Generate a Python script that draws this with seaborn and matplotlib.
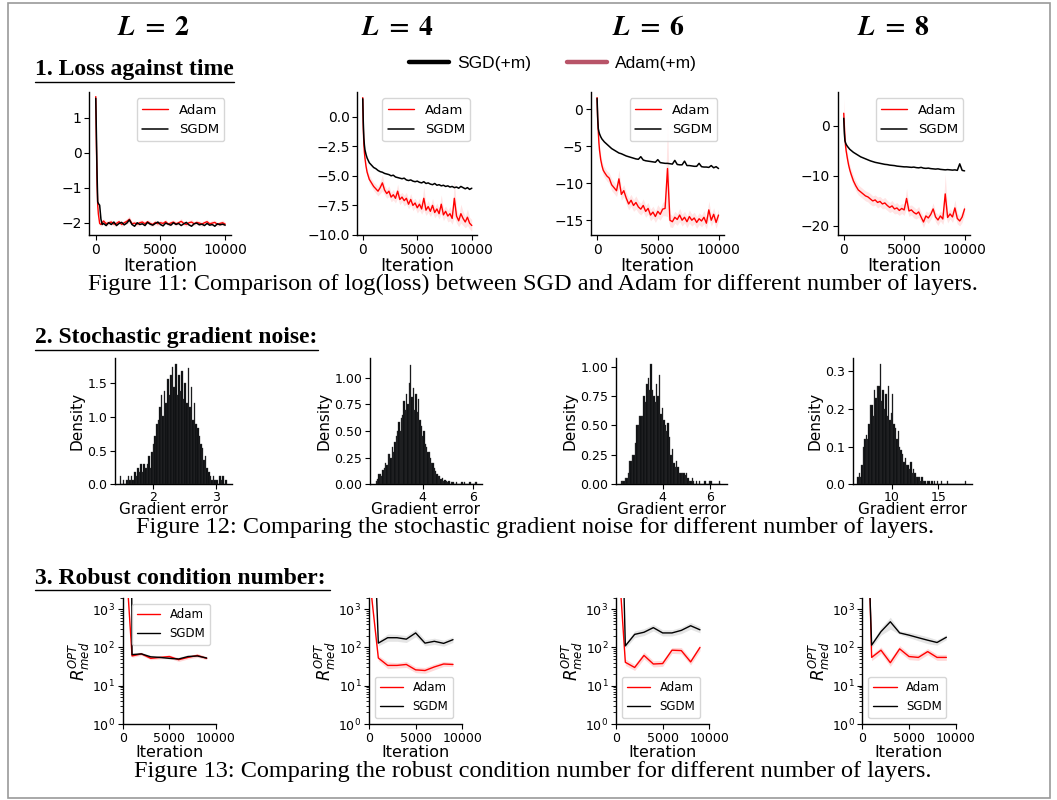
import matplotlib
matplotlib.use("Agg")
import matplotlib.pyplot as plt
from matplotlib.lines import Line2D
from matplotlib.patches import Rectangle
import numpy as np
import pandas as pd
import seaborn as sns

# ---------------- data ----------------
layer_numbers = ["2", "4", "6", "8"]

loss_iters = [0, 50, 100, 150, 200, 300, 400, 500, 600, 800,
              1000, 1200, 1400, 1600, 1800, 2000, 2200, 2400, 2600, 2800,
              3000, 3200, 3400, 3600, 3800, 4000, 4200, 4400, 4600, 4800,
              5000, 5200, 5400, 5600, 5800, 6000, 6200, 6400, 6600, 6800,
              7000, 7200, 7400, 7600, 7800, 8000, 8200, 8400, 8600, 8800,
              9000, 9200, 9400, 9600, 9800, 10000]

loss_adam_L2 = [1.60, 0.20, -0.90, -1.50, -1.75, -2.02, -2.05, -2.00, -1.95, -2.03,
                -2.00, -1.98, -2.04, -2.02, -1.97, -2.05, -2.00, -1.96, -1.90, -2.03,
                -2.01, -2.04, -2.00, -1.98, -2.03, -1.97, -2.02, -2.05, -1.99, -2.03,
                -2.00, -2.02, -1.97, -2.04, -2.01, -1.98, -2.03, -2.00, -1.96, -2.02,
                -2.05, -2.00, -1.98, -2.03, -1.99, -2.01, -2.04, -2.00, -1.97, -2.03,
                -2.01, -1.99, -2.05, -2.02, -2.00, -2.04]
loss_sgdm_L2 = [1.55, 0.50, -0.60, -1.40, -1.45, -1.50, -1.90, -2.05, -2.02, -2.08,
                -2.00, -2.05, -1.98, -2.08, -2.02, -1.99, -2.06, -2.01, -1.92, -2.05,
                -2.10, -2.00, -2.05, -2.03, -2.08, -1.99, -2.04, -2.07, -2.02, -1.98,
                -2.05, -2.09, -2.01, -2.04, -2.07, -2.00, -2.05, -2.02, -2.08, -2.03,
                -1.99, -2.06, -2.10, -2.03, -2.01, -2.06, -2.04, -2.08, -2.02, -2.07,
                -2.05, -2.10, -2.03, -2.06, -2.04, -2.07]
loss_adam_L4 = [1.60, -1.00, -2.30, -3.00, -3.50, -4.20, -4.70, -5.00, -5.30, -5.60,
                -5.90, -6.10, -6.30, -6.00, -5.60, -6.20, -6.50, -6.30, -6.80, -6.60,
                -6.90, -6.30, -7.00, -6.80, -7.10, -6.90, -7.40, -7.00, -7.50, -7.30,
                -7.70, -7.40, -7.80, -6.90, -7.90, -7.60, -8.00, -7.50, -8.10, -7.80,
                -8.20, -7.40, -8.30, -8.00, -8.40, -8.20, -8.60, -6.90, -8.40, -8.80,
                -8.20, -8.60, -8.90, -8.50, -9.00, -9.20]
loss_sgdm_L4 = [1.50, -0.50, -1.80, -2.40, -2.80, -3.20, -3.50, -3.70, -3.90, -4.10,
                -4.30, -4.40, -4.55, -4.65, -4.70, -4.80, -4.85, -4.90, -5.00, -4.95,
                -5.10, -5.15, -5.20, -5.25, -5.20, -5.35, -5.40, -5.35, -5.45, -5.50,
                -5.45, -5.55, -5.60, -5.50, -5.65, -5.60, -5.70, -5.75, -5.65, -5.80,
                -5.75, -5.85, -5.80, -5.90, -5.85, -5.95, -5.90, -6.00, -5.95, -6.05,
                -5.90, -6.00, -6.10, -6.00, -6.15, -6.05]
loss_adam_L6 = [1.60, -1.50, -3.00, -4.50, -5.50, -6.80, -7.60, -8.20, -8.50, -9.00,
                -9.30, -10.2, -10.6, -11.0, -9.40, -11.5, -11.0, -12.0, -12.8, -12.3,
                -13.0, -12.6, -13.2, -13.5, -13.0, -13.8, -13.4, -14.3, -13.9, -14.5,
                -13.8, -14.2, -13.5, -13.4, -8.00, -15.0, -15.2, -14.6, -14.9, -14.3,
                -15.0, -14.6, -15.2, -14.5, -15.0, -14.7, -15.3, -14.8, -15.1, -14.6,
                -15.4, -13.6, -15.0, -14.2, -15.3, -14.3]
loss_sgdm_L6 = [1.50, -1.00, -2.60, -3.00, -3.30, -3.70, -4.00, -4.20, -4.40, -4.70,
                -5.00, -5.30, -5.50, -5.70, -5.90, -6.00, -6.15, -6.30, -6.40, -6.50,
                -6.60, -6.70, -6.75, -6.40, -6.85, -6.95, -7.00, -7.05, -7.10, -7.15,
                -6.80, -7.20, -7.25, -7.30, -7.30, -7.35, -7.40, -6.90, -7.45, -7.50,
                -7.50, -7.00, -7.60, -7.60, -7.65, -7.70, -7.70, -7.30, -7.75, -7.80,
                -7.80, -7.85, -7.60, -7.90, -7.75, -8.00]
loss_adam_L8 = [2.50, 0.00, -2.50, -4.00, -5.00, -6.50, -7.80, -8.80, -9.60, -11.0,
                -12.0, -12.8, -13.2, -13.6, -14.0, -14.2, -14.6, -15.0, -14.8, -15.3,
                -15.1, -15.6, -15.4, -15.9, -16.3, -16.0, -16.6, -16.4, -16.9, -16.5,
                -16.8, -14.5, -17.0, -16.8, -17.3, -17.6, -17.2, -18.2, -19.2, -18.0,
                -18.4, -17.7, -16.6, -18.2, -18.8, -18.0, -18.6, -13.6, -18.3, -17.6,
                -18.2, -16.4, -18.5, -19.0, -18.2, -16.6]
loss_sgdm_L8 = [1.50, -1.50, -3.00, -3.40, -3.70, -4.10, -4.40, -4.70, -4.90, -5.30,
                -5.60, -5.90, -6.20, -6.40, -6.60, -6.80, -7.00, -7.15, -7.30, -7.40,
                -7.50, -7.60, -7.70, -7.75, -7.85, -7.90, -7.95, -8.05, -8.10, -8.15,
                -8.20, -8.20, -8.25, -8.30, -8.25, -8.35, -8.40, -8.30, -8.45, -8.50,
                -8.45, -8.55, -8.60, -8.65, -8.60, -8.70, -8.75, -8.80, -8.75, -8.80,
                -8.85, -8.80, -8.90, -7.60, -8.90, -9.00]

# half-width of the Adam uncertainty band
adam_spread_L2 = [0.15, 0.15, 0.12, 0.10, 0.08, 0.06, 0.06, 0.07, 0.06, 0.08,
                  0.06, 0.07, 0.06, 0.08, 0.06, 0.07, 0.06, 0.08, 0.10, 0.06,
                  0.07, 0.06, 0.08, 0.06, 0.07, 0.06, 0.08, 0.06, 0.07, 0.06,
                  0.08, 0.06, 0.07, 0.06, 0.08, 0.06, 0.07, 0.06, 0.08, 0.06,
                  0.07, 0.06, 0.08, 0.06, 0.07, 0.06, 0.08, 0.06, 0.07, 0.06,
                  0.08, 0.06, 0.07, 0.06, 0.08, 0.06]
adam_spread_L4 = [0.30, 0.30, 0.30, 0.30, 0.30, 0.30, 0.30, 0.30, 0.35, 0.35,
                  0.35, 0.40, 0.40, 0.50, 0.70, 0.40, 0.40, 0.45, 0.40, 0.45,
                  0.40, 0.60, 0.45, 0.40, 0.45, 0.50, 0.40, 0.50, 0.45, 0.40,
                  0.45, 0.50, 0.45, 1.00, 0.45, 0.50, 0.45, 0.60, 0.45, 0.50,
                  0.45, 0.80, 0.50, 0.45, 0.50, 0.60, 0.50, 1.60, 0.60, 0.50,
                  0.80, 0.60, 0.50, 0.70, 0.50, 0.50]
adam_spread_L6 = [0.50, 0.50, 0.60, 0.60, 0.60, 0.70, 0.70, 0.70, 0.70, 0.70,
                  0.70, 0.80, 0.80, 0.80, 1.20, 0.80, 0.80, 0.80, 0.80, 0.80,
                  0.80, 0.90, 0.80, 0.80, 0.90, 0.80, 0.80, 0.80, 0.80, 0.80,
                  0.90, 0.80, 0.90, 1.00, 6.50, 0.90, 0.80, 0.80, 0.80, 0.90,
                  0.80, 0.80, 0.80, 0.90, 0.80, 0.80, 0.80, 0.80, 0.80, 0.90,
                  0.80, 1.20, 0.80, 0.90, 0.80, 0.80]
adam_spread_L8 = [3.00, 2.50, 2.00, 1.50, 1.20, 1.00, 1.00, 1.00, 1.00, 1.00,
                  1.00, 1.00, 1.00, 1.00, 1.00, 1.00, 1.10, 1.00, 1.00, 1.10,
                  1.00, 1.00, 1.10, 1.00, 1.00, 1.10, 1.00, 1.10, 1.00, 1.00,
                  1.10, 2.00, 1.10, 1.00, 1.10, 1.00, 1.10, 1.00, 1.10, 1.00,
                  1.10, 1.00, 1.20, 1.00, 1.10, 1.00, 1.10, 4.00, 1.10, 1.00,
                  1.10, 1.60, 1.10, 1.00, 1.10, 1.00]

# gradient-noise histograms (density per bin)
hist_start = [1.475, 2.15, 2.22, 6.30]
hist_width = [0.025, 0.052, 0.06, 0.15]
hist_L2 = [0.12, 0.00, 0.06, 0.00, 0.06, 0.12, 0.06, 0.12, 0.06, 0.18,
           0.12, 0.24, 0.18, 0.30, 0.18, 0.30, 0.24, 0.30, 0.42, 0.24,
           0.48, 0.60, 0.72, 0.90, 0.96, 1.14, 1.32, 1.02, 1.38, 1.20,
           1.56, 1.32, 1.62, 1.74, 1.44, 1.78, 1.32, 1.62, 1.38, 1.68,
           1.26, 1.50, 1.20, 1.72, 1.14, 1.44, 0.96, 1.20, 0.90, 0.84,
           0.72, 0.60, 0.54, 0.36, 0.42, 0.24, 0.18, 0.12, 0.06, 0.12,
           0.06, 0.06, 0.00, 0.12, 0.06, 0.12, 0.00, 0.06]
hist_L4 = [0.03, 0.05, 0.10, 0.10, 0.08, 0.13, 0.15, 0.20, 0.18, 0.28,
           0.28, 0.25, 0.35, 0.30, 0.40, 0.45, 0.50, 0.58, 0.50, 0.62,
           0.65, 0.78, 0.70, 0.85, 0.75, 0.95, 1.12, 0.82, 0.90, 0.70,
           0.85, 0.68, 0.80, 0.60, 0.55, 0.45, 0.50, 0.38, 0.35, 0.30,
           0.30, 0.25, 0.20, 0.20, 0.15, 0.12, 0.10, 0.08, 0.08, 0.05,
           0.06, 0.03, 0.04, 0.03, 0.02, 0.03, 0.00, 0.02, 0.02, 0.00,
           0.00, 0.02, 0.00, 0.00, 0.00, 0.02, 0.00, 0.02, 0.00, 0.00,
           0.00, 0.02, 0.00, 0.00, 0.00, 0.02, 0.02]
hist_L6 = [0.03, 0.03, 0.03, 0.05, 0.05, 0.10, 0.20, 0.20, 0.25, 0.25,
           0.35, 0.50, 0.50, 0.58, 0.58, 0.58, 0.75, 0.70, 0.85, 0.90,
           0.80, 1.02, 0.80, 0.75, 0.70, 0.85, 0.75, 0.93, 0.60, 0.65,
           0.55, 0.50, 0.45, 0.52, 0.40, 0.25, 0.30, 0.18, 0.15, 0.20,
           0.15, 0.10, 0.10, 0.10, 0.10, 0.08, 0.10, 0.05, 0.03, 0.03,
           0.05, 0.03, 0.00, 0.03, 0.00, 0.03, 0.00, 0.00, 0.00, 0.03,
           0.00, 0.00, 0.03, 0.03, 0.00, 0.00, 0.00, 0.00, 0.00, 0.03, 0.00]
hist_L8 = [0.02, 0.03, 0.02, 0.05, 0.10, 0.12, 0.13, 0.12, 0.16, 0.21,
           0.21, 0.18, 0.25, 0.23, 0.26, 0.26, 0.32, 0.22, 0.25, 0.20,
           0.24, 0.18, 0.26, 0.17, 0.19, 0.24, 0.16, 0.15, 0.12, 0.14,
           0.10, 0.09, 0.08, 0.06, 0.07, 0.05, 0.05, 0.04, 0.06, 0.03,
           0.04, 0.03, 0.02, 0.02, 0.02, 0.01, 0.02, 0.01, 0.01, 0.00,
           0.01, 0.01, 0.00, 0.01, 0.00, 0.01, 0.00, 0.01, 0.00, 0.00,
           0.01, 0.00, 0.00, 0.00, 0.01, 0.00, 0.00, 0.00, 0.00, 0.00,
           0.00, 0.00, 0.00, 0.00, 0.00, 0.00, 0.00, 0.01]

# robust condition number
cn_iters = [0, 1000, 2000, 3000, 4000, 5000, 6000, 7000, 8000, 9000]
cn_adam_L2 = [4e5, 60, 68, 52, 55, 58, 48, 55, 62, 52]
cn_adam_L2_lo = [4e5, 55, 62, 48, 50, 52, 43, 50, 55, 48]
cn_adam_L2_hi = [4e5, 66, 74, 57, 60, 64, 53, 60, 70, 57]
cn_sgdm_L2 = [1e50, 65, 68, 57, 55, 52, 50, 58, 60, 53]
cn_sgdm_L2_lo = [1e50, 60, 63, 53, 51, 48, 46, 54, 56, 49]
cn_sgdm_L2_hi = [1e50, 70, 73, 61, 59, 56, 54, 62, 64, 57]
cn_adam_L4 = [9e3, 53, 34, 34, 36, 26, 25, 31, 37, 36]
cn_adam_L4_lo = [9e3, 45, 28, 29, 30, 22, 21, 26, 32, 32]
cn_adam_L4_hi = [9e3, 62, 42, 40, 43, 31, 30, 37, 43, 41]
cn_sgdm_L4 = [5e8, 130, 180, 180, 165, 240, 130, 145, 128, 160]
cn_sgdm_L4_lo = [5e8, 110, 145, 145, 135, 190, 110, 120, 108, 135]
cn_sgdm_L4_hi = [5e8, 155, 225, 220, 205, 300, 160, 175, 155, 190]
cn_adam_L6 = [2e5, 41, 30, 62, 37, 38, 85, 83, 42, 100]
cn_adam_L6_lo = [2e5, 34, 25, 50, 31, 32, 70, 68, 35, 82]
cn_adam_L6_hi = [2e5, 50, 36, 76, 45, 46, 100, 100, 51, 120]
cn_sgdm_L6 = [5e11, 110, 220, 250, 330, 240, 240, 280, 370, 290]
cn_sgdm_L6_lo = [5e11, 95, 180, 205, 270, 200, 200, 230, 300, 240]
cn_sgdm_L6_hi = [5e11, 130, 270, 310, 400, 290, 290, 340, 450, 350]
cn_adam_L8 = [8e10, 55, 85, 40, 92, 58, 55, 78, 55, 55]
cn_adam_L8_lo = [8e10, 45, 70, 32, 75, 48, 46, 65, 46, 46]
cn_adam_L8_hi = [8e10, 66, 103, 50, 112, 70, 66, 94, 66, 66]
cn_sgdm_L8 = [2e9, 115, 260, 470, 240, 210, 180, 155, 135, 185]
cn_sgdm_L8_lo = [2e9, 100, 210, 300, 220, 180, 150, 125, 115, 160]
cn_sgdm_L8_hi = [2e9, 135, 330, 620, 270, 250, 220, 190, 160, 215]

# ---------------- figure ----------------
sns.set_theme(style="ticks")
plt.rcParams["font.family"] = ["DejaVu Sans"]
plt.rcParams["axes.edgecolor"] = "black"
plt.rcParams["xtick.color"] = "black"
plt.rcParams["ytick.color"] = "black"
plt.rcParams["text.color"] = "black"
plt.rcParams["axes.labelcolor"] = "black"

W, H = 1057, 800
fig = plt.figure(figsize=(W / 100, H / 100), dpi=100)
fig.patch.set_facecolor("white")


def add_ax(l, t, r, b):
    return fig.add_axes([l / W, 1 - b / H, (r - l) / W, (b - t) / H])


def style_ax(ax, tsize):
    for s in ["top", "right"]:
        ax.spines[s].set_visible(False)
    for s in ["left", "bottom"]:
        ax.spines[s].set_linewidth(1.0)
    ax.tick_params(axis="both", which="major", length=3.5, width=0.8,
                   labelsize=tsize, pad=2)
    ax.tick_params(axis="both", which="minor", length=2, width=0.6)
    ax.set_facecolor("white")


RED = "#ff0000"

# ---- frame ----
fig.add_artist(Rectangle((8 / W, 1 - 798 / H), (1050 - 8) / W, (798 - 3) / H,
                         transform=fig.transFigure, fill=False,
                         edgecolor="#9a9a9a", lw=1.2))

# ---- column titles ----
for x, t in zip([153, 397, 648, 893], layer_numbers):
    fig.text(x / W, 1 - 27 / H, r"$\boldsymbol{L}\;\mathbf{=}\;\mathbf{" + t + "}$",
             math_fontfamily="stix", fontsize=20, ha="center", va="center")

# ---- section headers ----
def header(text, y_base, x_end, y_line):
    fig.text(35 / W, 1 - y_base / H, text, family="Liberation Serif",
             fontweight="bold", fontsize=17, ha="left", va="baseline")
    fig.add_artist(Line2D([35 / W, x_end / W], [1 - y_line / H, 1 - y_line / H],
                          transform=fig.transFigure, color="black", lw=1.0))

header("1. Loss against time", 75, 234, 82)
header("2. Stochastic gradient noise:", 343, 318, 349.5)
header("3. Robust condition number:", 584, 330, 589.5)

# ---- top legend ----
fig.legend(handles=[Line2D([], [], color="black", lw=3.2, label="SGD(+m)"),
                    Line2D([], [], color="#b85468", lw=3.2, label="Adam(+m)")],
           loc="center", bbox_to_anchor=(553 / W, 1 - 63 / H), ncol=2,
           frameon=False, prop={"family": "Liberation Sans", "size": 12.5},
           handlelength=2.3, handletextpad=0.45, columnspacing=2.1)

# ---- captions ----
captions = [
    (533, 284, "Figure 11: Comparison of log(loss) between SGD and Adam for different number of layers."),
    (535, 527, "Figure 12: Comparing the stochastic gradient noise for different number of layers."),
    (533, 771, "Figure 13: Comparing the robust condition number for different number of layers."),
]
for x, y, t in captions:
    fig.text(x / W, 1 - y / H, t, family="Liberation Serif", fontsize=17.5,
             ha="center", va="center")

# ---------------- row 1 : loss ----------------
row1_pos = [(89.3, 91.7, 231, 235), (357.3, 91.7, 476.7, 235),
            (591, 91.7, 724, 235), (837.7, 91.7, 970, 235)]
row1_adam = [loss_adam_L2, loss_adam_L4, loss_adam_L6, loss_adam_L8]
row1_sgdm = [loss_sgdm_L2, loss_sgdm_L4, loss_sgdm_L6, loss_sgdm_L8]
row1_spread = [adam_spread_L2, adam_spread_L4, adam_spread_L6, adam_spread_L8]
row1_ylim = [(-2.35, 1.74), (-10.0, 2.1), (-17.0, 2.4), (-21.8, 6.8)]
row1_yticks = [[-2, -1, 0, 1], [-10, -7.5, -5, -2.5, 0], [-15, -10, -5, 0], [-20, -10, 0]]
row1_yfmt = ["{:.0f}", "{:.1f}", "{:.0f}", "{:.0f}"]

for pos, ad, sg, sp, yl, yt, fmt in zip(row1_pos, row1_adam, row1_sgdm, row1_spread,
                                       row1_ylim, row1_yticks, row1_yfmt):
    ax = add_ax(*pos)
    style_ax(ax, 10)
    ad_a = np.asarray(ad)
    sp_a = np.asarray(sp)
    ax.fill_between(loss_iters, ad_a - sp_a, ad_a + sp_a, color=RED, alpha=0.1, lw=0)
    sns.lineplot(x=loss_iters, y=ad, ax=ax, color=RED, lw=1.0, label="Adam")
    sns.lineplot(x=loss_iters, y=sg, ax=ax, color="black", lw=1.1, label="SGDM")
    ax.set_xlim(-500, 10450)
    ax.set_ylim(*yl)
    ax.set_xticks([0, 5000, 10000])
    ax.set_yticks(yt)
    ax.set_yticklabels([fmt.format(v).replace("-", "\u2212") for v in yt])
    ax.set_xlabel("Iteration", fontsize=12.5, labelpad=0)
    ax.set_ylabel("")
    ax.legend(loc="upper right", fontsize=9.5, frameon=True, fancybox=True,
              framealpha=0.8, edgecolor="0.8", handlelength=2.0, borderpad=0.4,
              labelspacing=0.5)

# ---------------- row 2 : histograms ----------------
row2_pos = [(115, 358.3, 231.7, 484.3), (370, 358.3, 481.7, 484.3),
            (616, 358.3, 726.7, 484.3), (852.7, 358.3, 971.7, 484.3)]
row2_h = [hist_L2, hist_L4, hist_L6, hist_L8]
row2_xlim = [(1.40, 3.25), (1.92, 6.33), (2.03, 6.70), (5.82, 18.6)]
row2_xticks = [[2, 3], [4, 6], [4, 6], [10, 15]]
row2_ylim = [(0, 1.87), (0, 1.18), (0, 1.07), (0, 0.334)]
row2_yticks = [[0, 0.5, 1.0, 1.5], [0, 0.25, 0.5, 0.75, 1.0],
               [0, 0.25, 0.5, 0.75, 1.0], [0, 0.1, 0.2, 0.3]]
row2_yfmt = ["{:.1f}", "{:.2f}", "{:.2f}", "{:.1f}"]

for pos, h, x0, bw, xl, xt, yl, yt, fmt in zip(row2_pos, row2_h, hist_start, hist_width,
                                              row2_xlim, row2_xticks, row2_ylim,
                                              row2_yticks, row2_yfmt):
    ax = add_ax(*pos)
    style_ax(ax, 9)
    ax.tick_params(axis="x", pad=1)
    n = len(h)
    edges = list(x0 + bw * np.arange(n + 1))
    df = pd.DataFrame({"err": x0 + bw * (np.arange(n) + 0.5), "dens": h})
    sns.histplot(data=df, x="err", weights="dens", bins=edges, ax=ax,
                 color="#080a0d", edgecolor="#3a3a3a", linewidth=0.25, alpha=1.0)
    ax.set_xlim(*xl)
    ax.set_ylim(*yl)
    ax.set_xticks(xt)
    ax.set_yticks(yt)
    ax.set_yticklabels([fmt.format(v) for v in yt])
    ax.set_xlabel("Gradient error", fontsize=11, labelpad=-1)
    ax.set_ylabel("Density", fontsize=11, labelpad=2)

# ---------------- row 3 : robust condition number ----------------
row3_pos = [(122.7, 597.7, 216, 724), (369, 597.7, 462.3, 724),
            (616, 597.7, 709.3, 724), (862.3, 597.7, 955.7, 724)]
row3_adam = [(cn_adam_L2, cn_adam_L2_lo, cn_adam_L2_hi), (cn_adam_L4, cn_adam_L4_lo, cn_adam_L4_hi),
             (cn_adam_L6, cn_adam_L6_lo, cn_adam_L6_hi), (cn_adam_L8, cn_adam_L8_lo, cn_adam_L8_hi)]
row3_sgdm = [(cn_sgdm_L2, cn_sgdm_L2_lo, cn_sgdm_L2_hi), (cn_sgdm_L4, cn_sgdm_L4_lo, cn_sgdm_L4_hi),
             (cn_sgdm_L6, cn_sgdm_L6_lo, cn_sgdm_L6_hi), (cn_sgdm_L8, cn_sgdm_L8_lo, cn_sgdm_L8_hi)]
row3_legloc = ["upper right", "lower left", "lower left", "lower left"]

for pos, (a, alo, ahi), (s, slo, shi), loc in zip(row3_pos, row3_adam, row3_sgdm, row3_legloc):
    ax = add_ax(*pos)
    style_ax(ax, 9)
    ax.set_yscale("log")
    ax.fill_between(cn_iters, slo, shi, color="0.5", alpha=0.2, lw=0)
    ax.fill_between(cn_iters, alo, ahi, color=RED, alpha=0.15, lw=0)
    sns.lineplot(x=cn_iters, y=a, ax=ax, color=RED, lw=1.0, label="Adam")
    sns.lineplot(x=cn_iters, y=s, ax=ax, color="black", lw=1.0, label="SGDM")
    ax.set_xlim(0, 10000)
    ax.set_ylim(1, 2000)
    ax.set_xticks([0, 5000, 10000])
    ax.set_yticks([1, 10, 100, 1000])
    ax.set_yticklabels([r"$10^0$", r"$10^1$", r"$10^2$", r"$10^3$"])
    ax.set_xlabel("Iteration", fontsize=11.5, labelpad=0)
    ax.set_ylabel(r"$R_{med}^{OPT}$", fontsize=12, labelpad=0)
    ax.legend(loc=loc, fontsize=8.5, frameon=True, fancybox=True, framealpha=0.8,
              edgecolor="0.8", handlelength=2.0, borderpad=0.4, labelspacing=0.5)

fig.savefig("out.png", dpi=100, facecolor="white")
